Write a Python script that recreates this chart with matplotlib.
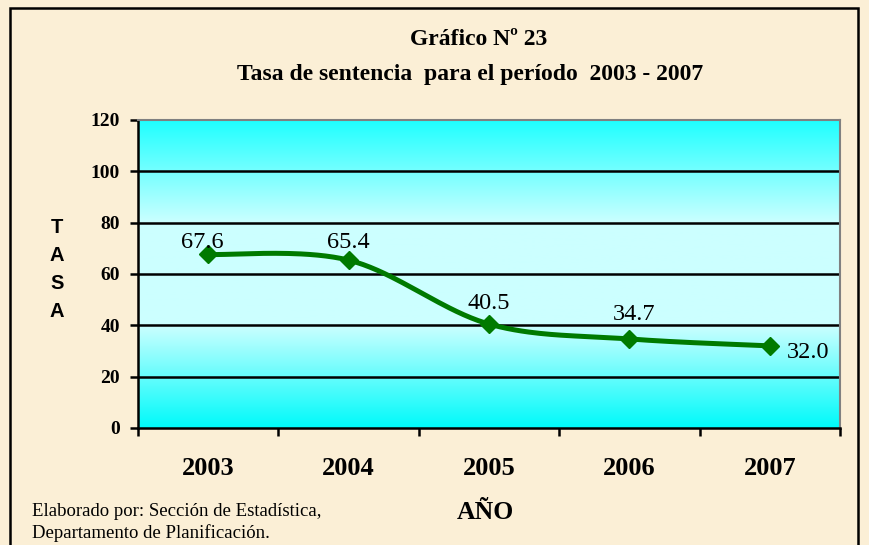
import numpy as np
import matplotlib.pyplot as plt
from matplotlib.colors import LinearSegmentedColormap
from matplotlib.patches import Rectangle

# Datos del gráfico
anios = ['2003', '2004', '2005', '2006', '2007']
tasa = [67.6, 65.4, 40.5, 34.7, 32.0]
etiquetas = ['67.6', '65.4', '40.5', '34.7', '32.0']
yticks = [0, 20, 40, 60, 80, 100, 120]

fondo = '#FBEFD6'
verde = '#007A00'
serif = 'Liberation Serif'
W, H = 870, 545

fig = plt.figure(figsize=(8.7, 5.45), dpi=100, facecolor=fondo)
ax = fig.add_axes([138 / W, 117 / H, 702 / W, 308 / H])

# Degradado celeste del área de trazado
cmap = LinearSegmentedColormap.from_list('cel', ['#00FAFA', '#CCFFFF', '#CCFFFF', '#1FFFFF'])
grad = np.linspace(0, 1, 256).reshape(-1, 1)
ax.imshow(grad, cmap=cmap, aspect='auto', extent=(-0.5, 4.5, 0, 120),
          origin='lower', zorder=0)

# Curva suavizada (Catmull-Rom en coordenadas de pantalla)
x = np.arange(len(tasa))
sx, sy = 140.0, 2.567
px = x * sx
py = np.array(tasa) * sy
cx, cy = [], []
n = len(px)
for i in range(n - 1):
    p0 = (px[max(i - 1, 0)], py[max(i - 1, 0)])
    p1 = (px[i], py[i])
    p2 = (px[i + 1], py[i + 1])
    p3 = (px[min(i + 2, n - 1)], py[min(i + 2, n - 1)])
    c1 = (p1[0] + (p2[0] - p0[0]) / 6, p1[1] + (p2[1] - p0[1]) / 6)
    c2 = (p2[0] - (p3[0] - p1[0]) / 6, p2[1] - (p3[1] - p1[1]) / 6)
    t = np.linspace(0, 1, 40)
    bx = (1 - t) ** 3 * p1[0] + 3 * (1 - t) ** 2 * t * c1[0] + 3 * (1 - t) * t ** 2 * c2[0] + t ** 3 * p2[0]
    by = (1 - t) ** 3 * p1[1] + 3 * (1 - t) ** 2 * t * c1[1] + 3 * (1 - t) * t ** 2 * c2[1] + t ** 3 * p2[1]
    cx.extend(bx)
    cy.extend(by)
ax.plot(np.array(cx) / sx, np.array(cy) / sy, color=verde, lw=3.6, zorder=3,
        solid_capstyle='round')
ax.plot(x, tasa, linestyle='none', marker='D', ms=9.5, color=verde, zorder=4)

# Etiquetas de datos (desplazamiento en píxeles respecto al punto)
desp = [(-6, 6, 'center', 'baseline'), (0, 12, 'center', 'baseline'),
        (0, 15, 'center', 'baseline'), (5, 19, 'center', 'baseline'),
        (17, -7, 'left', 'center')]
for i, (v, lab) in enumerate(zip(tasa, etiquetas)):
    dx, dy, ha, va = desp[i]
    ax.annotate(lab, (i, v), xytext=(dx * 0.72, dy * 0.72), textcoords='offset points',
                ha=ha, va=va, fontsize=17.5, family=serif, zorder=5)

# Ejes y cuadrícula
ax.set_xlim(-0.5, 4.5)
ax.set_ylim(0, 120)
ax.set_yticks(yticks)
ax.set_yticklabels([str(v) for v in yticks], fontsize=14, fontweight='bold',
                   family=serif)
ax.set_xticks(np.arange(-0.5, 5, 1))
ax.set_xticklabels([])
ax.set_xticks(x, minor=True)
ax.set_xticklabels(anios, minor=True, fontsize=19, fontweight='bold', family=serif)
ax.tick_params(axis='x', which='minor', length=0, pad=21)
ax.tick_params(axis='x', which='major', length=6, width=1.8, direction='out')
ax.tick_params(axis='y', length=6, width=1.8, direction='out', pad=7)
for yv in yticks[1:-1]:
    ax.axhline(yv, color='black', lw=1.8, zorder=2)
ax.spines['left'].set_linewidth(1.8)
ax.spines['bottom'].set_linewidth(1.8)
ax.spines['top'].set_color('#808080')
ax.spines['right'].set_color('#808080')
ax.spines['top'].set_linewidth(1.5)
ax.spines['right'].set_linewidth(1.5)

# Títulos y textos
fig.text(479 / W, 1 - 45 / H, 'Gráfico Nº 23', ha='center', va='baseline',
         fontsize=17, fontweight='bold', family=serif)
fig.text(470 / W, 1 - 80 / H, 'Tasa de sentencia  para el período  2003 - 2007',
         ha='center', va='baseline', fontsize=17, fontweight='bold', family=serif)
for k, letra in enumerate('TASA'):
    fig.text(57 / W, 1 - (227 + 28.3 * k) / H, letra, ha='center', va='center',
             fontsize=14.5, fontweight='bold', family='Liberation Sans')
fig.text(485 / W, 1 - 519 / H, 'AÑO', ha='center', va='baseline',
         fontsize=18.5, fontweight='bold', family=serif)
fig.text(32 / W, 1 - 516 / H, 'Elaborado por: Sección de Estadística,',
         ha='left', va='baseline', fontsize=13.5, family=serif)
fig.text(32 / W, 1 - 538 / H, 'Departamento de Planificación.',
         ha='left', va='baseline', fontsize=13.5, family=serif)

# Marco exterior
fig.patches.append(Rectangle((10 / W, -0.05), 848 / W, 1 - 8 / H + 0.05,
                             transform=fig.transFigure, fill=False,
                             edgecolor='black', lw=1.8))

fig.savefig('out.png', dpi=100, facecolor=fondo)
